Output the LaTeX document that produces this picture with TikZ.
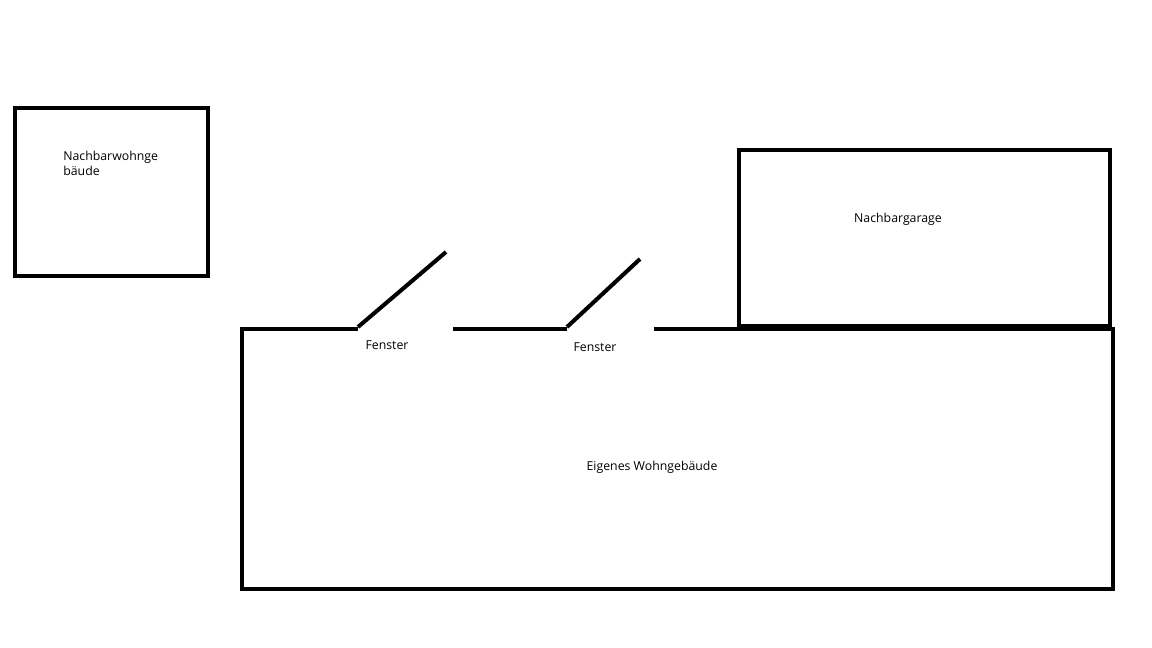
\documentclass[tikz,border=0pt]{standalone}
\usepackage{fontspec}
\setmainfont{Open Sans}
\usetikzlibrary{positioning}
\tikzset{wall/.style={line width=2.3pt},
  lbl/.style={font=\fontsize{7}{8.6}\selectfont,inner sep=0pt}}
\begin{document}
\begin{tikzpicture}[x=0.02cm,y=-0.02cm]
\useasboundingbox (0,0) rectangle (1152,648);
% Nachbarwohngebaeude
\draw[wall] (15,108) rectangle (208,276);
\node[lbl,anchor=north west,align=left] (nwg) at (63,151) {Nachbarwohnge\\bäude};
% Nachbargarage
\draw[wall] (739,150) rectangle (1110,326);
\node[lbl] (ngar) at (898,219) {Nachbargarage};
% Eigenes Wohngebaeude
\draw[wall] (358,329) -- (242,329) -- (242,589) -- (1113,589) -- (1113,329) -- (654,329);
\draw[wall] (453,329) -- (567,329);
% Fenster
\draw[wall] (358,327) -- (446,252);
\draw[wall] (567,327) -- (640,259);
\node[lbl] (f1) at (387,345) {Fenster};
\node[lbl] (f2) at (595,347) {Fenster};
\node[lbl] (ewg) at (652,467) {Eigenes Wohngebäude};
\end{tikzpicture}
\end{document}
